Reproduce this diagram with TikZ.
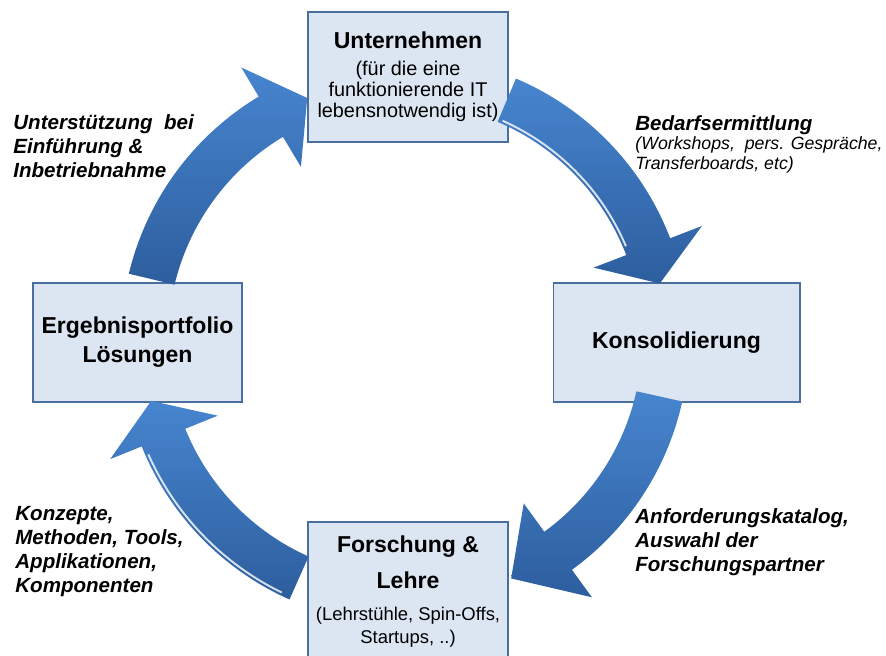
\documentclass[tikz,border=0pt]{standalone}
\usepackage{fontspec}
\setmainfont{Liberation Sans}
\usetikzlibrary{calc,positioning}

\definecolor{boxfill}{HTML}{DCE6F2}
\definecolor{boxline}{HTML}{4A6E9E}
\definecolor{arrowtop}{HTML}{4785CF}
\definecolor{arrowbot}{HTML}{2D5E9E}

\newcommand{\titlefont}{\fontsize{13.1}{16.4}\selectfont\bfseries}
\newcommand{\subfont}{\fontsize{11.3}{12}\selectfont}
\newcommand{\smallnote}{\fontsize{10.1}{11}\selectfont\mdseries\itshape}

\tikzset{
  stage/.style={draw=boxline, fill=boxfill, line width=0.6pt, align=center, inner sep=0pt},
  note/.style={align=left, inner sep=0pt, anchor=north west,
    font=\fontsize{11.7}{13.6}\selectfont\bfseries\itshape},
  bigarrow/.style={top color=arrowtop, bottom color=arrowbot, draw=none},
  shine/.style={white, line width=1.1pt, opacity=0.8}
}

\begin{document}
\begin{tikzpicture}[x=0.02cm, y=-0.02cm]
    \useasboundingbox (0,0) rectangle (886,656);
    \coordinate (ctr) at (405,340);
    % the four stages
    \node[stage, minimum width=4cm, minimum height=2.6cm, font=\subfont] (firm) at (408,77)
        {{\titlefont Unternehmen}\\[3.4pt](für die eine\\funktionierende IT\\lebensnotwendig ist)};
    \node[stage, minimum width=4.94cm, minimum height=2.38cm, font=\titlefont] (cons) at (676.5,342.5) {Konsolidierung};
    \node[stage, minimum width=4cm, minimum height=2.8cm, font=\fontsize{10.5}{13.6}\selectfont] (res) at (408,592)
        {{\titlefont Forschung \&}\\[6.5pt]{\titlefont Lehre}\\[4.5pt](Lehrstühle, Spin-Offs,\\Startups, ..)};
    \node[stage, minimum width=4.18cm, minimum height=2.38cm, font=\titlefont] (port) at (137.5,342.5) {Ergebnisportfolio\\Lösungen};
    % curved arrows round the cycle
    \foreach \a/\b/\t in {-67/-21/-12.5, 12.5/54/66, 114/158/166.5, 193.5/239/248}
        \path[bigarrow] ($(ctr)+(\a:284)$) arc[start angle=\a, end angle=\b, radius=284]
            -- ($(ctr)+(\b:318)$) -- ($(ctr)+(\t:261)$) -- ($(ctr)+(\b:202)$)
            -- ($(ctr)+(\b:237)$) arc[start angle=\b, end angle=\a, radius=237] -- cycle;
    \draw[shine] ($(ctr)+(-66:240)$) arc[start angle=-66, end angle=-23, radius=240];
    \draw[shine] ($(ctr)+(116:281)$) arc[start angle=116, end angle=156, radius=281];
    % labels
    \node[note] (help) at (13,114) {Unterstützung\ \ bei\\Einführung \&\\Inbetriebnahme};
    \node[note] (need) at (635,115)
        {Bedarfsermittlung\\[-2.6pt]{\smallnote (Workshops,\ \ pers. Gespräche,}\\[-2pt]{\smallnote Transferboards, etc)}};
    \node[note] (reqs) at (635,508) {Anforderungskatalog,\\Auswahl der\\Forschungspartner};
    \node[note] (outs) at (15,506) {Konzepte,\\Methoden, Tools,\\Applikationen,\\Komponenten};
\end{tikzpicture}
\end{document}
